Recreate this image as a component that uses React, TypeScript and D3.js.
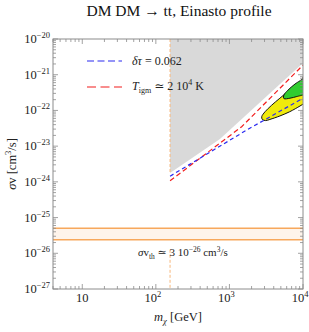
import React from 'react'
import * as d3 from 'd3'

// axis ranges
const massDomain: [number, number] = [4, 1e4]
const sigmaDomain: [number, number] = [1e-27, 1e-20]
const massMajor = [10, 100, 1000, 10000]
const massExp = ['', '2', '3', '4']
const sigmaExp = [-20, -21, -22, -23, -24, -25, -26, -27]

// m_chi threshold (vertical dashed line) and thermal cross section band
const mThreshold = 156
const thermalBand = [2.4e-26, 5e-26]
const thermalLineTop = 1.25e-26

// excluded (gray) region, [m GeV, sigma v cm3/s]
const excluded: [number, number][] = [
	[156, 1e-20], [156, 1.76e-24], [743, 1.58e-23], [1e4, 2.13e-21], [1e4, 1e-20],
]
// delta tau = 0.062
const tauLine: [number, number][] = [[156, 1.44e-24], [1714, 2.82e-23], [1e4, 2.2e-22]]
// T_igm ~ 2 10^4 K
const tempLine: [number, number][] = [[156, 1.07e-24], [1466, 3.49e-23], [1e4, 1.86e-21]]

const yellowContour: [number, number][] = [
	[1e4, 8.6e-22], [9100, 6.0e-22], [6600, 3.7e-22], [4850, 2.2e-22], [3750, 1.4e-22],
	[3050, 9.2e-23], [2750, 6.7e-23], [2800, 5.6e-23], [3100, 5.2e-23], [3550, 5.6e-23],
	[4850, 7.0e-23], [6600, 9.2e-23], [9100, 1.33e-22], [1e4, 1.5e-22],
]
const greenContour: [number, number][] = [
	[1e4, 7.6e-22], [7800, 5.5e-22], [6250, 3.7e-22], [5500, 2.7e-22], [5500, 2.15e-22],
	[6650, 2.2e-22], [8250, 2.45e-22], [1e4, 2.7e-22],
]

const W = 309
const H = 332
const left = 53, right = 303, top = 39, bottom = 289
const serif = '"Liberation Serif", "DejaVu Serif", serif'

export default function App() {
	const x = d3.scaleLog().domain(massDomain).range([left, right])
	const y = d3.scaleLog().domain(sigmaDomain).range([bottom, top])

	const line = d3.line<[number, number]>().x(d => x(d[0])).y(d => y(d[1]))
	const smooth = d3.line<[number, number]>().x(d => x(d[0])).y(d => y(d[1])).curve(d3.curveCatmullRom)

	// minor ticks 1..9 in every decade
	const xTicks: number[] = []
	for (let e = 0; e <= 4; e++) for (let k = 1; k <= 9; k++) {
		const v = k * Math.pow(10, e)
		if (v >= massDomain[0] && v <= massDomain[1]) xTicks.push(v)
	}
	const yTicks: number[] = []
	for (let e = -27; e <= -20; e++) for (let k = 1; k <= 9; k++) {
		const v = k * Math.pow(10, e)
		if (v >= sigmaDomain[0] * 0.999 && v <= sigmaDomain[1] * 1.001) yTicks.push(v)
	}
	const isMajor = (v: number) => Math.abs(Math.log10(v) - Math.round(Math.log10(v))) < 1e-6

	const frame = '#8c8c8c'

	return (
		<svg width={W} height={H} style={{position: 'absolute', left: 0, top: 0}} fontFamily={serif}>
			<defs>
				<clipPath id="plot">
					<rect x={left} y={top} width={right - left} height={bottom - top}/>
				</clipPath>
			</defs>
			<rect width={W} height={H} fill="#fff"/>

			<text x={179} y={16} fontSize={15.5} textAnchor="middle" fill="#111">DM DM → tt,  Einasto profile</text>

			<g clipPath="url(#plot)">
				<path d={line(excluded) + 'Z'} fill="#d9d9d9"/>

				<rect x={left} y={y(thermalBand[1])} width={right - left}
					height={y(thermalBand[0]) - y(thermalBand[1])} fill="#fef4eb"/>
				<line x1={left} x2={right} y1={y(thermalBand[0])} y2={y(thermalBand[0])} stroke="#f7a85c" strokeWidth={1.5}/>
				<line x1={left} x2={right} y1={y(thermalBand[1])} y2={y(thermalBand[1])} stroke="#f7a85c" strokeWidth={1.5}/>

				<line x1={x(mThreshold)} x2={x(mThreshold)} y1={top} y2={y(excluded[1][1])}
					stroke="#f7b77a" strokeWidth={1} strokeDasharray="3,2"/>
				<line x1={x(mThreshold)} x2={x(mThreshold)} y1={y(thermalLineTop)} y2={bottom}
					stroke="#f7b77a" strokeWidth={1} strokeDasharray="3,2"/>

				<path d={smooth(yellowContour) + 'Z'} fill="#f0ea0c"/>
				<path d={smooth(yellowContour)!} fill="none" stroke="#111" strokeWidth={1}/>
				<path d={smooth(greenContour) + 'Z'} fill="#2fcc2f"/>
				<path d={smooth(greenContour)!} fill="none" stroke="#111" strokeWidth={1}/>

				<path d={line(tempLine)!} fill="none" stroke="#f21d1d" strokeWidth={1.2} strokeDasharray="5,3"/>
				<path d={line(tauLine)!} fill="none" stroke="#2a2af0" strokeWidth={1.2} strokeDasharray="4,3"/>
			</g>

			{/* frame and ticks */}
			<rect x={left} y={top} width={right - left} height={bottom - top} fill="none" stroke={frame} strokeWidth={1}/>
			{xTicks.map((v, i) => {
				const len = isMajor(v) ? 5 : 3
				return (
					<g key={`xt-${i}`} stroke={frame} strokeWidth={0.8}>
						<line x1={x(v)} x2={x(v)} y1={bottom} y2={bottom - len}/>
						<line x1={x(v)} x2={x(v)} y1={top} y2={top + len}/>
					</g>
				)
			})}
			{yTicks.map((v, i) => {
				const len = isMajor(v) ? 5 : 3
				return (
					<g key={`yt-${i}`} stroke={frame} strokeWidth={0.8}>
						<line x1={left} x2={left + len} y1={y(v)} y2={y(v)}/>
						<line x1={right} x2={right - len} y1={y(v)} y2={y(v)}/>
					</g>
				)
			})}

			{massMajor.map((v, i) => (
				<text key={`xl-${i}`} x={x(v) + (massExp[i] ? -3 : 0)} y={302} fontSize={12.5} textAnchor="middle" fill="#222">
					10{massExp[i] ? <tspan dy={-5} fontSize={8.5}>{massExp[i]}</tspan> : null}
				</text>
			))}
			{sigmaExp.map((e, i) => (
				<text key={`yl-${i}`} x={50} y={y(Math.pow(10, e)) + 4} fontSize={12.5} textAnchor="end" fill="#222">
					10<tspan dy={-5} fontSize={8.5}>{`−${-e}`}</tspan>
				</text>
			))}

			<text x={178} y={321} fontSize={12.5} textAnchor="middle" fill="#222">
				<tspan fontStyle="italic">m</tspan><tspan dy={2.5} fontSize={8.5} fontStyle="italic">χ</tspan>
				<tspan dy={-2.5}>{'  [GeV]'}</tspan>
			</text>
			<text transform={`translate(16,${(top + bottom) / 2}) rotate(-90)`} fontSize={12.5} textAnchor="middle" fill="#222">
				<tspan fontStyle="italic">σ</tspan>v{'  [cm'}<tspan dy={-5} fontSize={8.5}>3</tspan><tspan dy={5}>/s]</tspan>
			</text>

			{/* legend */}
			<line x1={87} x2={122} y1={61} y2={61} stroke="#2a2af0" strokeWidth={1.2} strokeDasharray="7,3.5"/>
			<text x={132} y={65} fontSize={12} fill="#222">
				<tspan fontStyle="italic">δτ</tspan> = 0.062
			</text>
			<line x1={87} x2={122} y1={87} y2={87} stroke="#f21d1d" strokeWidth={1.2} strokeDasharray="9,4.5"/>
			<text x={132} y={90} fontSize={12} fill="#222">
				<tspan fontStyle="italic">T</tspan><tspan dy={3} fontSize={8}>igm</tspan>
				<tspan dy={-3}>{' ≃ 2 10'}</tspan><tspan dy={-5} fontSize={8}>4</tspan><tspan dy={5}> K</tspan>
			</text>

			<text x={138} y={256} fontSize={11} fill="#222">
				<tspan fontStyle="italic">σ</tspan>v<tspan dy={2.5} fontSize={7.5}>th</tspan>
				<tspan dy={-2.5}>{' ≃ 3 10'}</tspan><tspan dy={-4.5} fontSize={7.5}>−26</tspan>
				<tspan dy={4.5}>{' cm'}</tspan><tspan dy={-4.5} fontSize={7.5}>3</tspan><tspan dy={4.5}>/s</tspan>
			</text>
		</svg>
	)
}
